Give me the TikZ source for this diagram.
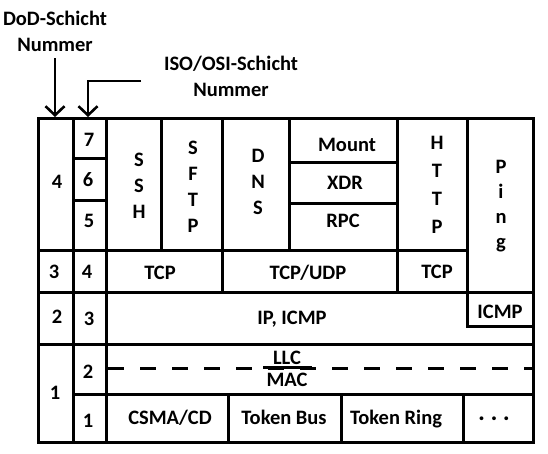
\documentclass[tikz,border=0pt]{standalone}
\usepackage{fontspec}
\setmainfont{Carlito}
\usetikzlibrary{arrows.meta}
\begin{document}
\begin{tikzpicture}[x=1pt,y=-1pt,
  txt/.style={font=\bfseries\fontsize{20.5}{26}\selectfont, inner sep=0pt, align=center, text depth=0pt},
  grid/.style={line width=3pt, line cap=rect},
  arr/.style={line width=2.6pt, -{Straight Barb[length=9pt,width=19pt]}}]
\useasboundingbox[fill=white] (0,0) rectangle (548,453);

% header labels
\node[txt] (dod) at (55,31) {DoD-Schicht\\Nummer};
\node[txt] (iso) at (231,76) {ISO/OSI-Schicht\\Nummer};
\coordinate (dodStart) at (55,58);
\coordinate (dodTip) at (55,117);
\coordinate (isoStart) at (141,81);
\coordinate (isoTip) at (88,117);
\draw[arr] (dodStart) -- (dodTip);
\draw[arr] (isoStart) -| (isoTip);

% frame and grid
\draw[grid] (38,118) rectangle (533,442);
\draw[grid] (73,118) -- (73,442);
\draw[grid] (106,118) -- (106,442);
\draw[grid] (161,118) -- (161,250);
\draw[grid] (222,118) -- (222,292);
\draw[grid] (289,118) -- (289,250);
\draw[grid] (397,118) -- (397,292);
\draw[grid] (467,118) -- (467,326);
\draw[grid] (73,158) -- (106,158);
\draw[grid] (73,200) -- (106,200);
\draw[grid] (289,162) -- (397,162);
\draw[grid] (289,203) -- (397,203);
\draw[grid] (38,250) -- (467,250);
\draw[grid] (38,292) -- (533,292);
\draw[grid] (467,326) -- (533,326);
\draw[grid] (38,344) -- (533,344);
\draw[grid] (73,394) -- (533,394);
\draw[line width=3pt, dash pattern=on 16pt off 16pt, dash phase=-2pt] (106,368) -- (533,368);
\draw[line width=3pt] (263,367) -- (312,367);
\draw[grid] (228,394) -- (228,442);
\draw[grid] (341,394) -- (341,442);
\draw[grid] (463,394) -- (463,442);

% DoD column
\node[txt] (d4) at (57,182) {4};
\node[txt] (d3) at (54,272) {3};
\node[txt] (d2) at (57,317) {2};
\node[txt] (d1) at (55,393) {1};
% ISO column
\node[txt] (i7) at (89,140) {7};
\node[txt] (i6) at (88,179) {6};
\node[txt] (i5) at (89,221) {5};
\node[txt] (i4) at (87,272) {4};
\node[txt] (i3) at (89,319) {3};
\node[txt] (i2) at (88,372) {2};
\node[txt] (i1) at (88,421) {1};

% application layer
\node[txt] (ssh) at (139,186) {S\\S\\H};
\node[txt] (sftp) at (193,186.5) {S\\F\\T\\P};
\node[txt] (dns) at (258,182) {D\\N\\S};
\node[txt] (mount) at (347,145) {Mount};
\node[txt] (xdr) at (345,183) {XDR};
\node[txt] (rpc) at (343,221) {RPC};
\node[txt, font=\bfseries\fontsize{20.5}{28}\selectfont] (http) at (437,185) {H\\T\\T\\P};
\node[txt, font=\bfseries\fontsize{20.5}{25}\selectfont] (ping) at (501,204) {P\\i\\n\\g};

% transport layer
\node[txt] (tcpA) at (160,273) {TCP};
\node[txt] (tcpudp) at (308,272) {TCP/UDP};
\node[txt] (tcpB) at (437,272) {TCP};

% network layer
\node[txt] (ip) at (292,318) {IP, ICMP};
\node[txt] (icmp) at (500,312) {ICMP};

% link layer
\node[txt] (llc) at (287,358) {LLC};
\node[txt] (mac) at (287,380) {MAC};
\node[txt] (csma) at (170,417) {CSMA/CD};
\node[txt] (tbus) at (284,417) {Token Bus};
\node[txt] (tring) at (396,417) {Token Ring};
\node[txt] (dots) at (494,421) {·\,\,·\,\,·};
\end{tikzpicture}
\end{document}
